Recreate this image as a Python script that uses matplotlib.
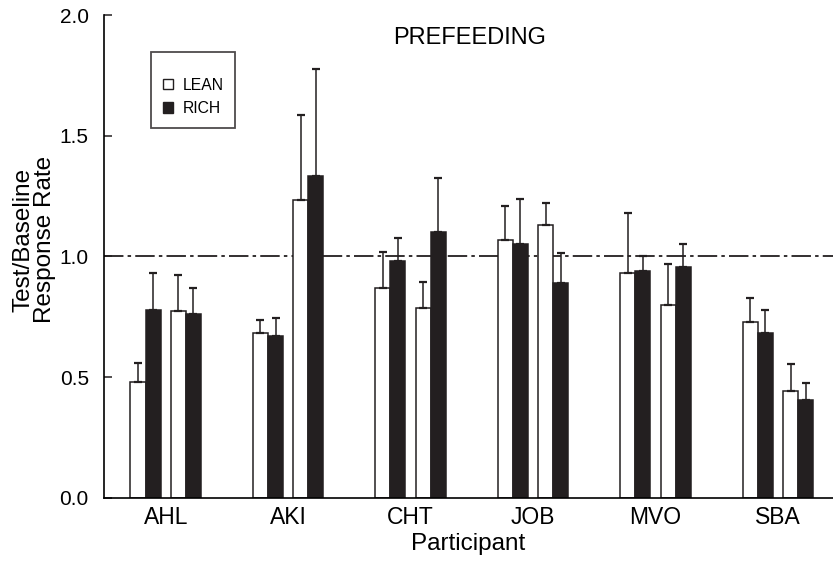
import matplotlib
matplotlib.use("Agg")
import matplotlib.pyplot as plt
import numpy as np
from matplotlib.patches import Patch

plt.rcParams['font.family'] = ['Liberation Sans', 'DejaVu Sans']
plt.rcParams['lines.scale_dashes'] = False

participants = ["AHL", "AKI", "CHT", "JOB", "MVO", "SBA"]
# two LEAN/RICH pairs per participant
lean1 = [0.48, 0.685, 0.87, 1.07, 0.93, 0.73]
rich1 = [0.78, 0.67, 0.98, 1.05, 0.94, 0.685]
lean2 = [0.775, 1.235, 0.785, 1.13, 0.80, 0.445]
rich2 = [0.76, 1.335, 1.10, 0.89, 0.955, 0.405]
lean1_err = [0.08, 0.05, 0.15, 0.14, 0.25, 0.10]
rich1_err = [0.15, 0.075, 0.095, 0.19, 0.06, 0.095]
lean2_err = [0.15, 0.35, 0.11, 0.09, 0.17, 0.11]
rich2_err = [0.11, 0.44, 0.225, 0.125, 0.095, 0.07]

BLACK = "#231f20"
w = 0.123
x = np.arange(len(participants))

fig = plt.figure(figsize=(8.33, 5.62), dpi=100)
ax = fig.add_axes([0.1249, 0.1139, 0.8751, 0.8594])

series = [(lean1, lean1_err, -0.165 - w/2, "white"),
          (rich1, rich1_err, -0.165 + w/2, BLACK),
          (lean2, lean2_err, 0.165 - w/2, "white"),
          (rich2, rich2_err, 0.165 + w/2, BLACK)]

# dash-dot reference line behind the bars
ax.axhline(1.0, color=BLACK, lw=1.3, dashes=(14, 3, 2.5, 3), zorder=1)

for vals, errs, off, col in series:
    ax.bar(x + off, vals, width=w, color=col, edgecolor=BLACK, linewidth=1.1, zorder=2)
    ax.errorbar(x + off, vals, yerr=[np.zeros(len(errs)), errs], fmt="none",
                ecolor=BLACK, elinewidth=1.1, capsize=2.8, capthick=1.6, zorder=3)

ax.set_xlim(-0.504, 5.45)
ax.set_ylim(0, 2.0)
ax.spines['top'].set_visible(False)
ax.spines['right'].set_visible(False)
ax.spines['left'].set_linewidth(1.2)
ax.spines['bottom'].set_linewidth(1.2)
ax.set_yticks(np.arange(0, 2.01, 0.5))
ax.set_yticklabels(["0.0", "0.5", "1.0", "1.5", "2.0"])
ax.tick_params(axis='y', direction='in', length=6, width=1.1, labelsize=15, pad=11, color=BLACK)
ax.set_xticks(x)
ax.set_xticklabels(participants)
ax.tick_params(axis='x', length=0, labelsize=16.5, pad=6)
ax.set_xlabel("Participant", fontsize=17.5, labelpad=3)
ax.set_ylabel("Test/Baseline\nResponse Rate", fontsize=17.5, linespacing=0.95)
ax.yaxis.set_label_coords(-0.066, 0.535)

ax.text(0.502, 0.952, "PREFEEDING", transform=ax.transAxes, ha="center", va="center", fontsize=17)

handles = [Patch(facecolor="white", edgecolor=BLACK, linewidth=1.0, label="LEAN"),
           Patch(facecolor=BLACK, edgecolor=BLACK, linewidth=1.0, label="RICH")]
leg = ax.legend(handles=handles, loc="upper left", bbox_to_anchor=(0.0645, 0.923),
                borderaxespad=0, fontsize=11.3, frameon=True, fancybox=False,
                title=" ", title_fontsize=4.5,
                handlelength=0.65, handleheight=0.65, handletextpad=0.6,
                borderpad=0.75, labelspacing=0.55)
leg.get_frame().set_edgecolor(BLACK)
leg.get_frame().set_linewidth(1.3)

fig.savefig("out.png", dpi=100)
